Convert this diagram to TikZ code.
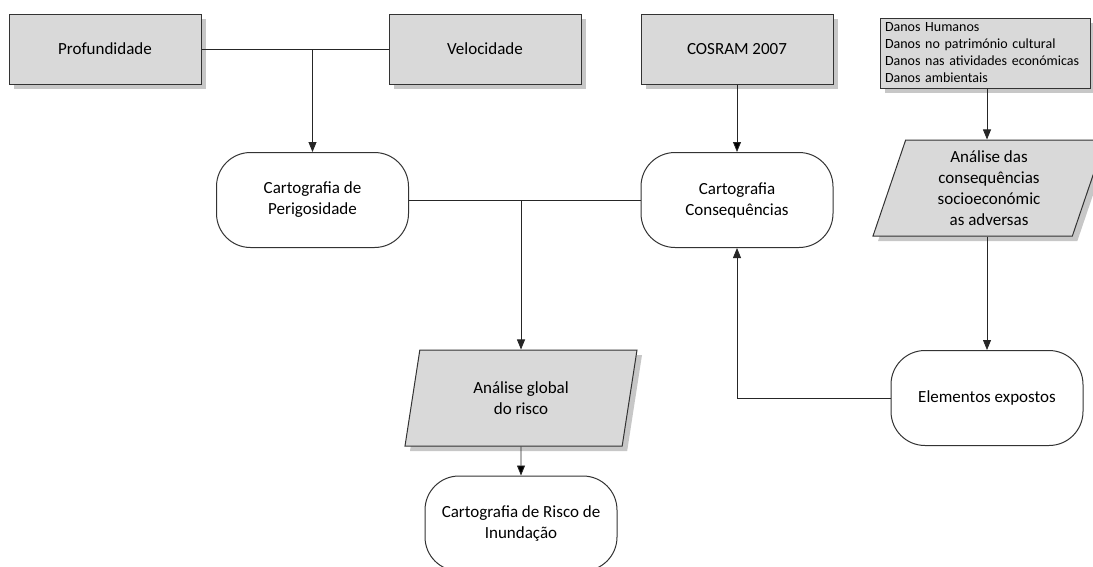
\documentclass[tikz,border=0pt]{standalone}
\usepackage{fontspec}
\setmainfont{Carlito}
\usetikzlibrary{arrows.meta}
\usetikzlibrary{positioning}
\usetikzlibrary{shapes.geometric}
\usetikzlibrary{shadows}
\begin{document}
\begin{tikzpicture}[x=1pt, y=-1pt,
    >={Triangle[length=10pt,width=8pt]},
    every node/.style={font=\fontsize{17}{21}\selectfont, align=center},
    shade/.style={drop shadow={shadow xshift=5pt, shadow yshift=-5pt, fill=black!22, opacity=1}},
    box/.style={rectangle, draw=black!80, line width=1pt, fill=gray!30, shade,
        minimum width=192pt, minimum height=70pt},
    term/.style={rectangle, rounded corners=34pt, draw=black!80, line width=1pt, fill=white,
        minimum width=192pt, minimum height=95pt},
    data/.style={trapezium, trapezium left angle=67, trapezium right angle=113,
        trapezium stretches body=true, draw=black!80, line width=1pt, fill=gray!30, shade,
        minimum width=232pt, minimum height=96pt, inner sep=1pt},
    line/.style={draw=black!85, line width=0.8pt}]

            \useasboundingbox (0,0) rectangle (1093,566);

            \node[box] (prof)   at (105,49)  {Profundidade};
            \node[box] (vel)    at (485,49)  {Velocidade};
            \node[box] (cosram) at (737,49)  {COSRAM 2007};
            \node[box, minimum width=210pt, text width=200pt, inner xsep=5pt, inner ysep=1pt,
                align=left, font=\fontsize{14}{17}\selectfont] (danos) at (985,53)
                {Danos Humanos\\Danos no património cultural\\Danos nas atividades económicas\\Danos ambientais};

            \node[term] (perig)  at (312.5,200) {Cartografia de\\Perigosidade};
            \node[term] (conseq) at (737,200)   {Cartografia\\Consequências};
            \node[data] (socio)  at (989,188)   {Análise das\\consequências\\socioeconómic\\as adversas};

            \node[data] (global) at (521,398) {Análise global\\do risco};
            \node[term] (elem)   at (987,398) {Elementos expostos};
            \node[term] (risco)  [below = 29pt of global] {Cartografia de Risco de\\Inundação};

            \draw[line] (prof) -- (vel);
            \draw[line, ->] (prof.east -| perig.north) -- (perig.north);
            \draw[line] (perig) -- (conseq);
            \draw[line, ->] (perig.east -| global.north) -- (global.north);
            \draw[line, ->] (danos.south -| elem.north) -- (socio.north -| elem.north);
            \draw[line, ->] (socio.south -| elem.north) -- (elem.north);
            \draw[line, ->] (elem.west) -| (conseq.south);
            \path[line, ->]
                (cosram) edge (conseq)
                (global) edge (risco);

        \end{tikzpicture}
\end{document}
